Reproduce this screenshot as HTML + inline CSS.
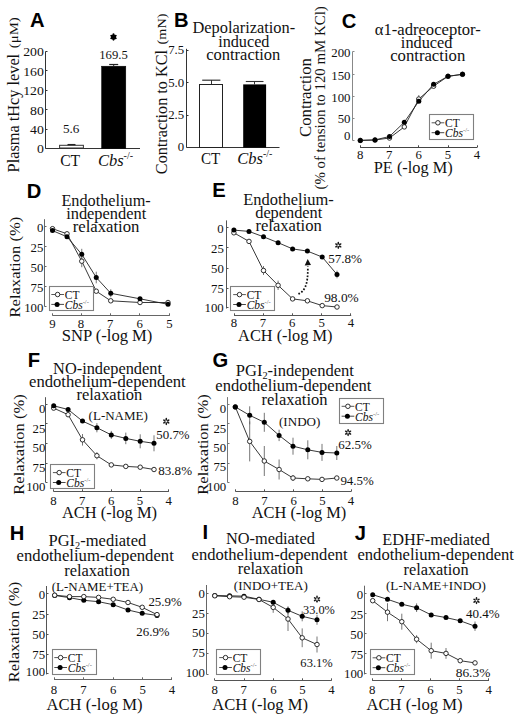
<!DOCTYPE html>
<html><head><meta charset="utf-8"><style>
html,body{margin:0;padding:0;background:#fff;}
svg{display:block;font-family:"Liberation Serif", serif;}
</style></head><body>
<svg width="520" height="720" viewBox="0 0 520 720" fill="#111">
<rect width="520" height="720" fill="#fff"/>
<text x="29.89" y="27.4" font-size="20.2" font-family="Liberation Sans, sans-serif" font-weight="bold" fill="#000">A</text>
<text x="0" y="0" font-size="16" textLength="118.53" lengthAdjust="spacingAndGlyphs" transform="translate(19 172.39) rotate(-90)">Plasma tHcy level</text>
<text x="0" y="0" font-size="12.5" textLength="30.91" lengthAdjust="spacingAndGlyphs" transform="translate(18.3 48.17) rotate(-90)">(&#956;M)</text>
<line x1="45.5" y1="51.5" x2="45.5" y2="148.3" stroke="#333" stroke-width="1"/>
<line x1="45.5" y1="148.5" x2="47.5" y2="148.5" stroke="#333" stroke-width="1"/>
<line x1="45.5" y1="129.5" x2="47.5" y2="129.5" stroke="#333" stroke-width="1"/>
<line x1="45.5" y1="109.5" x2="47.5" y2="109.5" stroke="#333" stroke-width="1"/>
<line x1="45.5" y1="90.5" x2="47.5" y2="90.5" stroke="#333" stroke-width="1"/>
<line x1="45.5" y1="70.5" x2="47.5" y2="70.5" stroke="#333" stroke-width="1"/>
<line x1="45.5" y1="51.5" x2="47.5" y2="51.5" stroke="#333" stroke-width="1"/>
<text x="36.93" y="153.23" font-size="12.3" textLength="6.89" lengthAdjust="spacingAndGlyphs">0</text>
<text x="30.04" y="133.93" font-size="12.3" textLength="13.78" lengthAdjust="spacingAndGlyphs">40</text>
<text x="30.04" y="114.53" font-size="12.3" textLength="13.78" lengthAdjust="spacingAndGlyphs">80</text>
<text x="23.15" y="95.13" font-size="12.3" textLength="20.66" lengthAdjust="spacingAndGlyphs">120</text>
<text x="23.15" y="75.73" font-size="12.3" textLength="20.66" lengthAdjust="spacingAndGlyphs">160</text>
<text x="23.15" y="56.43" font-size="12.3" textLength="20.66" lengthAdjust="spacingAndGlyphs">200</text>
<line x1="45.5" y1="148.5" x2="140" y2="148.5" stroke="#333" stroke-width="1"/>
<rect x="59.6" y="145.3" width="23.8" height="2.7" fill="#fff" stroke="#333" stroke-width="1"/>
<line x1="67.5" y1="144.6" x2="75.5" y2="144.6" stroke="#222" stroke-width="1.3"/>
<rect x="101.6" y="66.2" width="24.2" height="82.3" fill="#000" stroke="#000" stroke-width="0.5"/>
<line x1="113.7" y1="64.4" x2="113.7" y2="66.2" stroke="#222" stroke-width="1"/>
<line x1="109.2" y1="64.5" x2="118.2" y2="64.5" stroke="#222" stroke-width="1.2"/>
<text x="62.97" y="133.2" font-size="13.2">5.6</text>
<text x="99.29" y="58.8" font-size="13.2" textLength="28.52" lengthAdjust="spacingAndGlyphs">169.5</text>
<ellipse cx="113.5" cy="34.83" rx="1.04" ry="1.47" transform="rotate(0 113.5 34.83)" fill="#000"/><ellipse cx="115.38" cy="35.91" rx="1.04" ry="1.47" transform="rotate(60 115.38 35.91)" fill="#000"/><ellipse cx="115.38" cy="38.09" rx="1.04" ry="1.47" transform="rotate(120 115.38 38.09)" fill="#000"/><ellipse cx="113.5" cy="39.17" rx="1.04" ry="1.47" transform="rotate(180 113.5 39.17)" fill="#000"/><ellipse cx="111.62" cy="38.09" rx="1.04" ry="1.47" transform="rotate(240 111.62 38.09)" fill="#000"/><ellipse cx="111.62" cy="35.91" rx="1.04" ry="1.47" transform="rotate(-60 111.62 35.91)" fill="#000"/>
<circle cx="113.5" cy="37" r="2.5" fill="#000"/>
<text x="60.18" y="166.4" font-size="16.5" textLength="19.96" lengthAdjust="spacingAndGlyphs">CT</text>
<text x="97.89" y="166.4" font-size="16.5"><tspan font-style="italic">Cbs</tspan><tspan font-size="10" dy="-7">-/-</tspan></text>
<text x="173.94" y="27.4" font-size="20.2" font-family="Liberation Sans, sans-serif" font-weight="bold" fill="#000">B</text>
<text x="192.41" y="32.8" font-size="16" textLength="102.77" lengthAdjust="spacingAndGlyphs">Depolarization-</text>
<text x="218.18" y="46.5" font-size="16" textLength="51.24" lengthAdjust="spacingAndGlyphs">induced</text>
<text x="206.18" y="59.7" font-size="16" textLength="74.18" lengthAdjust="spacingAndGlyphs">contraction</text>
<text x="0" y="0" font-size="16" textLength="124.09" lengthAdjust="spacingAndGlyphs" transform="translate(167 174.15) rotate(-90)">Contraction to KCl</text>
<text x="0" y="0" font-size="13" textLength="30.81" lengthAdjust="spacingAndGlyphs" transform="translate(166.4 44.39) rotate(-90)">(mN)</text>
<line x1="186.5" y1="48.8" x2="186.5" y2="147.2" stroke="#333" stroke-width="1"/>
<line x1="186.5" y1="147.5" x2="188.5" y2="147.5" stroke="#333" stroke-width="1"/>
<line x1="186.5" y1="115.5" x2="188.5" y2="115.5" stroke="#333" stroke-width="1"/>
<line x1="186.5" y1="82.5" x2="188.5" y2="82.5" stroke="#333" stroke-width="1"/>
<line x1="186.5" y1="50.5" x2="188.5" y2="50.5" stroke="#333" stroke-width="1"/>
<text x="177.78" y="150.63" font-size="12.3" textLength="6.4" lengthAdjust="spacingAndGlyphs">0</text>
<text x="168.22" y="118.88" font-size="12.3" textLength="15.99" lengthAdjust="spacingAndGlyphs">2.5</text>
<text x="168.19" y="87.2" font-size="12.3" textLength="15.99" lengthAdjust="spacingAndGlyphs">5.0</text>
<text x="168.22" y="53.94" font-size="12.3" textLength="15.99" lengthAdjust="spacingAndGlyphs">7.5</text>
<line x1="186.5" y1="147.5" x2="279.5" y2="147.5" stroke="#333" stroke-width="1"/>
<rect x="199.5" y="84.5" width="23" height="63" fill="#fff" stroke="#222" stroke-width="1"/>
<line x1="211.5" y1="80" x2="211.5" y2="84" stroke="#333" stroke-width="1"/>
<line x1="202.2" y1="80.2" x2="220.4" y2="80.2" stroke="#333" stroke-width="1.2"/>
<rect x="243.2" y="84.4" width="22.9" height="63.2" fill="#000"/>
<line x1="254.5" y1="81.5" x2="254.5" y2="84.5" stroke="#333" stroke-width="1"/>
<line x1="245.8" y1="81.5" x2="263.5" y2="81.5" stroke="#333" stroke-width="1.1"/>
<text x="200.9" y="164.2" font-size="16.5" textLength="19.23" lengthAdjust="spacingAndGlyphs">CT</text>
<text x="237.19" y="164.2" font-size="16.5"><tspan font-style="italic">Cbs</tspan><tspan font-size="10" dy="-7">-/-</tspan></text>
<text x="341.79" y="27.5" font-size="20.2" font-family="Liberation Sans, sans-serif" font-weight="bold" fill="#000">C</text>
<text x="374.78" y="35" font-size="16" textLength="106.09" lengthAdjust="spacingAndGlyphs">&#945;1-adreoceptor-</text>
<text x="400.87" y="48" font-size="16" textLength="51.54" lengthAdjust="spacingAndGlyphs">induced</text>
<text x="390.17" y="61.1" font-size="16" textLength="75.09" lengthAdjust="spacingAndGlyphs">contraction</text>
<text x="0" y="0" font-size="16" textLength="78.9" lengthAdjust="spacingAndGlyphs" transform="translate(310.7 136.97) rotate(-90)">Contraction</text>
<text x="0" y="0" font-size="14" textLength="183.3" lengthAdjust="spacingAndGlyphs" transform="translate(324.9 189.57) rotate(-90)">(% of tension to 120 mM KCl)</text>
<line x1="352.5" y1="51.6" x2="352.5" y2="140.4" stroke="#888" stroke-width="1"/>
<line x1="352.5" y1="140.5" x2="354.5" y2="140.5" stroke="#888" stroke-width="1"/>
<line x1="352.5" y1="118.5" x2="354.5" y2="118.5" stroke="#888" stroke-width="1"/>
<line x1="352.5" y1="96.5" x2="354.5" y2="96.5" stroke="#888" stroke-width="1"/>
<line x1="352.5" y1="74.5" x2="354.5" y2="74.5" stroke="#888" stroke-width="1"/>
<line x1="352.5" y1="51.5" x2="354.5" y2="51.5" stroke="#888" stroke-width="1"/>
<text x="344.08" y="140.03" font-size="12.3" textLength="6.4" lengthAdjust="spacingAndGlyphs">0</text>
<text x="337.69" y="123.43" font-size="12.3" textLength="12.79" lengthAdjust="spacingAndGlyphs">50</text>
<text x="331.29" y="101.93" font-size="12.3" textLength="19.19" lengthAdjust="spacingAndGlyphs">100</text>
<text x="331.29" y="79.63" font-size="12.3" textLength="19.19" lengthAdjust="spacingAndGlyphs">150</text>
<text x="331.29" y="57.13" font-size="12.3" textLength="19.19" lengthAdjust="spacingAndGlyphs">200</text>
<line x1="360.2" y1="147.5" x2="477" y2="147.5" stroke="#444" stroke-width="1"/>
<line x1="360.5" y1="147.5" x2="360.5" y2="145.3" stroke="#444" stroke-width="1"/>
<line x1="389.5" y1="147.5" x2="389.5" y2="145.3" stroke="#444" stroke-width="1"/>
<line x1="418.5" y1="147.5" x2="418.5" y2="145.3" stroke="#444" stroke-width="1"/>
<line x1="448.5" y1="147.5" x2="448.5" y2="145.3" stroke="#444" stroke-width="1"/>
<line x1="477.5" y1="147.5" x2="477.5" y2="145.3" stroke="#444" stroke-width="1"/>
<text x="357.1" y="158.8" font-size="12.3" textLength="6.4" lengthAdjust="spacingAndGlyphs">8</text>
<text x="386.08" y="158.8" font-size="12.3" textLength="6.4" lengthAdjust="spacingAndGlyphs">7</text>
<text x="415.47" y="158.8" font-size="12.3" textLength="6.4" lengthAdjust="spacingAndGlyphs">6</text>
<text x="444.69" y="158.8" font-size="12.3" textLength="6.4" lengthAdjust="spacingAndGlyphs">5</text>
<text x="473.77" y="158.8" font-size="12.3" textLength="6.4" lengthAdjust="spacingAndGlyphs">4</text>
<text x="373.81" y="173.1" font-size="16" textLength="78.89" lengthAdjust="spacingAndGlyphs">PE (-log M)</text>
<polyline points="360.3,140.4 375,140 389.5,138 404.3,126.9 418.8,99 433.6,86.2 448,76.3 462.5,74.3" fill="none" stroke="#222" stroke-width="0.9"/>
<line x1="418.8" y1="95" x2="418.8" y2="103" stroke="#666" stroke-width="0.9"/>
<polyline points="360.3,140.4 375,139.9 389.5,136.5 404.3,122.2 418.8,101.3 433.6,84.3 448,76.3 462.5,74.3" fill="none" stroke="#222" stroke-width="0.9"/>
<circle cx="360.3" cy="140.4" r="2.25" fill="#fff" stroke="#1a1a1a" stroke-width="0.9"/>
<circle cx="375" cy="140" r="2.25" fill="#fff" stroke="#1a1a1a" stroke-width="0.9"/>
<circle cx="389.5" cy="138" r="2.25" fill="#fff" stroke="#1a1a1a" stroke-width="0.9"/>
<circle cx="404.3" cy="126.9" r="2.25" fill="#fff" stroke="#1a1a1a" stroke-width="0.9"/>
<circle cx="418.8" cy="99" r="2.25" fill="#fff" stroke="#1a1a1a" stroke-width="0.9"/>
<circle cx="433.6" cy="86.2" r="2.25" fill="#fff" stroke="#1a1a1a" stroke-width="0.9"/>
<circle cx="448" cy="76.3" r="2.25" fill="#fff" stroke="#1a1a1a" stroke-width="0.9"/>
<circle cx="462.5" cy="74.3" r="2.25" fill="#fff" stroke="#1a1a1a" stroke-width="0.9"/>
<circle cx="360.3" cy="140.4" r="2.5" fill="#000"/>
<circle cx="375" cy="139.9" r="2.5" fill="#000"/>
<circle cx="389.5" cy="136.5" r="2.5" fill="#000"/>
<circle cx="404.3" cy="122.2" r="2.5" fill="#000"/>
<circle cx="418.8" cy="101.3" r="2.5" fill="#000"/>
<circle cx="433.6" cy="84.3" r="2.5" fill="#000"/>
<circle cx="448" cy="76.3" r="2.5" fill="#000"/>
<circle cx="462.5" cy="74.3" r="2.5" fill="#000"/>
<rect x="429.5" y="114.5" width="44" height="25" fill="#fff" stroke="#808080" stroke-width="1.1"/>
<line x1="431.6" y1="122.8" x2="444.3" y2="122.8" stroke="#444" stroke-width="0.9"/>
<circle cx="437.9" cy="122.8" r="2.25" fill="#fff" stroke="#1a1a1a" stroke-width="0.9"/>
<text x="445.04" y="127" font-size="11.5">CT</text>
<line x1="431.6" y1="132.7" x2="444.3" y2="132.7" stroke="#333" stroke-width="0.9"/>
<circle cx="437.4" cy="132.7" r="2.5" fill="#000"/>
<text x="445.07" y="137.4" font-size="11.5"><tspan font-style="italic">Cbs</tspan><tspan font-size="6.5" dy="-5" fill="#555">-/-</tspan></text>
<text x="26.64" y="198.2" font-size="20.2" font-family="Liberation Sans, sans-serif" font-weight="bold" fill="#000">D</text>
<text x="61.41" y="205.6" font-size="16" textLength="89.28" lengthAdjust="spacingAndGlyphs">Endothelium-</text>
<text x="66.17" y="219.3" font-size="16" textLength="80.11" lengthAdjust="spacingAndGlyphs">independent</text>
<text x="72.67" y="232.2" font-size="16" textLength="66.8" lengthAdjust="spacingAndGlyphs">relaxation</text>
<text x="0" y="0" font-size="15.5" textLength="100.72" lengthAdjust="spacingAndGlyphs" transform="translate(19.5 317.5) rotate(-90)">Relaxation (%)</text>
<line x1="44.5" y1="219.2" x2="44.5" y2="306.5" stroke="#666" stroke-width="1"/>
<line x1="44.5" y1="226.5" x2="46.5" y2="226.5" stroke="#666" stroke-width="1"/>
<line x1="44.5" y1="246.5" x2="46.5" y2="246.5" stroke="#666" stroke-width="1"/>
<line x1="44.5" y1="266.5" x2="46.5" y2="266.5" stroke="#666" stroke-width="1"/>
<line x1="44.5" y1="286.5" x2="46.5" y2="286.5" stroke="#666" stroke-width="1"/>
<line x1="44.5" y1="306.5" x2="46.5" y2="306.5" stroke="#666" stroke-width="1"/>
<text x="36.98" y="232.03" font-size="12.3" textLength="6.4" lengthAdjust="spacingAndGlyphs">0</text>
<text x="30.62" y="252.11" font-size="12.3" textLength="12.79" lengthAdjust="spacingAndGlyphs">25</text>
<text x="30.59" y="272.13" font-size="12.3" textLength="12.79" lengthAdjust="spacingAndGlyphs">50</text>
<text x="30.62" y="292.07" font-size="12.3" textLength="12.79" lengthAdjust="spacingAndGlyphs">75</text>
<text x="24.19" y="312.23" font-size="12.3" textLength="19.19" lengthAdjust="spacingAndGlyphs">100</text>
<line x1="52.3" y1="315.5" x2="169.8" y2="315.5" stroke="#666" stroke-width="1"/>
<line x1="52.5" y1="315.5" x2="52.5" y2="313.3" stroke="#666" stroke-width="1"/>
<line x1="81.5" y1="315.5" x2="81.5" y2="313.3" stroke="#666" stroke-width="1"/>
<line x1="110.5" y1="315.5" x2="110.5" y2="313.3" stroke="#666" stroke-width="1"/>
<line x1="139.5" y1="315.5" x2="139.5" y2="313.3" stroke="#666" stroke-width="1"/>
<line x1="169.5" y1="315.5" x2="169.5" y2="313.3" stroke="#666" stroke-width="1"/>
<text x="49.15" y="327.6" font-size="12.3" textLength="6.4" lengthAdjust="spacingAndGlyphs">9</text>
<text x="77.8" y="327.6" font-size="12.3" textLength="6.4" lengthAdjust="spacingAndGlyphs">8</text>
<text x="107.08" y="327.6" font-size="12.3" textLength="6.4" lengthAdjust="spacingAndGlyphs">7</text>
<text x="136.52" y="327.6" font-size="12.3" textLength="6.4" lengthAdjust="spacingAndGlyphs">6</text>
<text x="166.29" y="327.6" font-size="12.3" textLength="6.4" lengthAdjust="spacingAndGlyphs">5</text>
<text x="61.78" y="340.8" font-size="16" textLength="90.64" lengthAdjust="spacingAndGlyphs">SNP (-log M)</text>
<polyline points="52.5,228.7 67,233.8 81.75,261.2 96.25,291.2 110.75,300.8 140,302.5 168,302.5" fill="none" stroke="#222" stroke-width="0.9"/>
<line x1="81.75" y1="255.2" x2="81.75" y2="267.2" stroke="#666" stroke-width="0.9"/>
<polyline points="52.5,230.6 67,236.8 81.75,254.3 96.25,277.5 110.75,293.3 140,298.8 168,304.3" fill="none" stroke="#222" stroke-width="0.9"/>
<line x1="81.75" y1="248.8" x2="81.75" y2="259.8" stroke="#666" stroke-width="0.9"/>
<line x1="96.25" y1="271.7" x2="96.25" y2="283.3" stroke="#666" stroke-width="0.9"/>
<line x1="110.75" y1="289.3" x2="110.75" y2="297.3" stroke="#666" stroke-width="0.9"/>
<circle cx="52.5" cy="228.7" r="2.25" fill="#fff" stroke="#1a1a1a" stroke-width="0.9"/>
<circle cx="67" cy="233.8" r="2.25" fill="#fff" stroke="#1a1a1a" stroke-width="0.9"/>
<circle cx="81.75" cy="261.2" r="2.25" fill="#fff" stroke="#1a1a1a" stroke-width="0.9"/>
<circle cx="96.25" cy="291.2" r="2.25" fill="#fff" stroke="#1a1a1a" stroke-width="0.9"/>
<circle cx="110.75" cy="300.8" r="2.25" fill="#fff" stroke="#1a1a1a" stroke-width="0.9"/>
<circle cx="140" cy="302.5" r="2.25" fill="#fff" stroke="#1a1a1a" stroke-width="0.9"/>
<circle cx="168" cy="302.5" r="2.25" fill="#fff" stroke="#1a1a1a" stroke-width="0.9"/>
<circle cx="52.5" cy="230.6" r="2.5" fill="#000"/>
<circle cx="67" cy="236.8" r="2.5" fill="#000"/>
<circle cx="81.75" cy="254.3" r="2.5" fill="#000"/>
<circle cx="96.25" cy="277.5" r="2.5" fill="#000"/>
<circle cx="110.75" cy="293.3" r="2.5" fill="#000"/>
<circle cx="140" cy="298.8" r="2.5" fill="#000"/>
<circle cx="168" cy="304.3" r="2.5" fill="#000"/>
<rect x="49.5" y="286.5" width="44" height="24" fill="#fff" stroke="#808080" stroke-width="1.1"/>
<line x1="51.3" y1="294.5" x2="64" y2="294.5" stroke="#444" stroke-width="0.9"/>
<circle cx="57.6" cy="294.5" r="2.25" fill="#fff" stroke="#1a1a1a" stroke-width="0.9"/>
<text x="64.74" y="298.7" font-size="11.5">CT</text>
<line x1="51.3" y1="304.4" x2="64" y2="304.4" stroke="#333" stroke-width="0.9"/>
<circle cx="57.1" cy="304.4" r="2.5" fill="#000"/>
<text x="64.77" y="309.1" font-size="11.5"><tspan font-style="italic">Cbs</tspan><tspan font-size="6.5" dy="-5" fill="#555">-/-</tspan></text>
<text x="212.24" y="197.4" font-size="20.2" font-family="Liberation Sans, sans-serif" font-weight="bold" fill="#000">E</text>
<text x="243.31" y="204.5" font-size="16" textLength="90.4" lengthAdjust="spacingAndGlyphs">Endothelium-</text>
<text x="255.23" y="218" font-size="16" textLength="67.04" lengthAdjust="spacingAndGlyphs">dependent</text>
<text x="255.47" y="230.8" font-size="16" textLength="66.29" lengthAdjust="spacingAndGlyphs">relaxation</text>
<line x1="226.5" y1="220.4" x2="226.5" y2="308.5" stroke="#555" stroke-width="1"/>
<line x1="226.5" y1="227.5" x2="228.5" y2="227.5" stroke="#555" stroke-width="1"/>
<line x1="226.5" y1="247.5" x2="228.5" y2="247.5" stroke="#555" stroke-width="1"/>
<line x1="226.5" y1="268.5" x2="228.5" y2="268.5" stroke="#555" stroke-width="1"/>
<line x1="226.5" y1="288.5" x2="228.5" y2="288.5" stroke="#555" stroke-width="1"/>
<line x1="226.5" y1="307.5" x2="228.5" y2="307.5" stroke="#555" stroke-width="1"/>
<text x="217.38" y="233.33" font-size="12.3" textLength="6.4" lengthAdjust="spacingAndGlyphs">0</text>
<text x="211.02" y="253.31" font-size="12.3" textLength="12.79" lengthAdjust="spacingAndGlyphs">25</text>
<text x="210.99" y="273.33" font-size="12.3" textLength="12.79" lengthAdjust="spacingAndGlyphs">50</text>
<text x="211.02" y="293.37" font-size="12.3" textLength="12.79" lengthAdjust="spacingAndGlyphs">75</text>
<text x="204.59" y="312.33" font-size="12.3" textLength="19.19" lengthAdjust="spacingAndGlyphs">100</text>
<line x1="234" y1="315.5" x2="351.2" y2="315.5" stroke="#555" stroke-width="1"/>
<line x1="234.5" y1="315.5" x2="234.5" y2="313.3" stroke="#555" stroke-width="1"/>
<line x1="263.5" y1="315.5" x2="263.5" y2="313.3" stroke="#555" stroke-width="1"/>
<line x1="292.5" y1="315.5" x2="292.5" y2="313.3" stroke="#555" stroke-width="1"/>
<line x1="321.5" y1="315.5" x2="321.5" y2="313.3" stroke="#555" stroke-width="1"/>
<line x1="350.5" y1="315.5" x2="350.5" y2="313.3" stroke="#555" stroke-width="1"/>
<text x="230.8" y="327" font-size="12.3" textLength="6.4" lengthAdjust="spacingAndGlyphs">8</text>
<text x="259.88" y="327" font-size="12.3" textLength="6.4" lengthAdjust="spacingAndGlyphs">7</text>
<text x="289.12" y="327" font-size="12.3" textLength="6.4" lengthAdjust="spacingAndGlyphs">6</text>
<text x="318.59" y="327" font-size="12.3" textLength="6.4" lengthAdjust="spacingAndGlyphs">5</text>
<text x="347.67" y="327" font-size="12.3" textLength="6.4" lengthAdjust="spacingAndGlyphs">4</text>
<text x="238.14" y="340.8" font-size="16" textLength="94.26" lengthAdjust="spacingAndGlyphs">ACH (-log M)</text>
<polyline points="233.9,232.8 249,241.4 263.5,270.5 278.1,285.3 292.6,298.9 307.4,300.8 322.2,305.6 337,307" fill="none" stroke="#222" stroke-width="0.9"/>
<line x1="263.5" y1="266" x2="263.5" y2="275" stroke="#666" stroke-width="0.9"/>
<line x1="278.1" y1="280.6" x2="278.1" y2="290" stroke="#666" stroke-width="0.9"/>
<polyline points="233.9,230.1 249,231.4 263.5,236.8 278.1,242.7 292.6,248.9 307.4,251.1 322.2,257 337,274.5" fill="none" stroke="#222" stroke-width="0.9"/>
<line x1="337" y1="270.7" x2="337" y2="278.3" stroke="#666" stroke-width="0.9"/>
<circle cx="233.9" cy="232.8" r="2.25" fill="#fff" stroke="#1a1a1a" stroke-width="0.9"/>
<circle cx="249" cy="241.4" r="2.25" fill="#fff" stroke="#1a1a1a" stroke-width="0.9"/>
<circle cx="263.5" cy="270.5" r="2.25" fill="#fff" stroke="#1a1a1a" stroke-width="0.9"/>
<circle cx="278.1" cy="285.3" r="2.25" fill="#fff" stroke="#1a1a1a" stroke-width="0.9"/>
<circle cx="292.6" cy="298.9" r="2.25" fill="#fff" stroke="#1a1a1a" stroke-width="0.9"/>
<circle cx="307.4" cy="300.8" r="2.25" fill="#fff" stroke="#1a1a1a" stroke-width="0.9"/>
<circle cx="322.2" cy="305.6" r="2.25" fill="#fff" stroke="#1a1a1a" stroke-width="0.9"/>
<circle cx="337" cy="307" r="2.25" fill="#fff" stroke="#1a1a1a" stroke-width="0.9"/>
<circle cx="233.9" cy="230.1" r="2.5" fill="#000"/>
<circle cx="249" cy="231.4" r="2.5" fill="#000"/>
<circle cx="263.5" cy="236.8" r="2.5" fill="#000"/>
<circle cx="278.1" cy="242.7" r="2.5" fill="#000"/>
<circle cx="292.6" cy="248.9" r="2.5" fill="#000"/>
<circle cx="307.4" cy="251.1" r="2.5" fill="#000"/>
<circle cx="322.2" cy="257" r="2.5" fill="#000"/>
<circle cx="337" cy="274.5" r="2.5" fill="#000"/>
<rect x="230.5" y="286.5" width="44" height="24" fill="#fff" stroke="#808080" stroke-width="1.1"/>
<line x1="233.2" y1="294.6" x2="245.9" y2="294.6" stroke="#444" stroke-width="0.9"/>
<circle cx="239.5" cy="294.6" r="2.25" fill="#fff" stroke="#1a1a1a" stroke-width="0.9"/>
<text x="246.64" y="298.8" font-size="11.5">CT</text>
<line x1="233.2" y1="304.5" x2="245.9" y2="304.5" stroke="#333" stroke-width="0.9"/>
<circle cx="239" cy="304.5" r="2.5" fill="#000"/>
<text x="246.67" y="309.2" font-size="11.5"><tspan font-style="italic">Cbs</tspan><tspan font-size="6.5" dy="-5" fill="#555">-/-</tspan></text>
<ellipse cx="338.3" cy="243.23" rx="0.83" ry="1.47" transform="rotate(0 338.3 243.23)" fill="#1a1a1a"/><ellipse cx="340.18" cy="244.31" rx="0.83" ry="1.47" transform="rotate(60 340.18 244.31)" fill="#1a1a1a"/><ellipse cx="340.18" cy="246.49" rx="0.83" ry="1.47" transform="rotate(120 340.18 246.49)" fill="#1a1a1a"/><ellipse cx="338.3" cy="247.57" rx="0.83" ry="1.47" transform="rotate(180 338.3 247.57)" fill="#1a1a1a"/><ellipse cx="336.42" cy="246.49" rx="0.83" ry="1.47" transform="rotate(240 336.42 246.49)" fill="#1a1a1a"/><ellipse cx="336.42" cy="244.31" rx="0.83" ry="1.47" transform="rotate(-60 336.42 244.31)" fill="#1a1a1a"/>
<text x="328.15" y="262.9" font-size="13.2" textLength="33.89" lengthAdjust="spacingAndGlyphs">57.8%</text>
<text x="324.16" y="302" font-size="13.2" textLength="34.58" lengthAdjust="spacingAndGlyphs">98.0%</text>
<path d="M298.4,293.9 C304,291.5 308.3,286 307.8,266.5" fill="none" stroke="#111" stroke-width="1.75" stroke-dasharray="1.7,1.65"/>
<path d="M304.7,265.4 L307.7,259.0 L311.0,264.9 Z" fill="#111"/>
<text x="27.84" y="366.6" font-size="20.2" font-family="Liberation Sans, sans-serif" font-weight="bold" fill="#000">F</text>
<text x="53.11" y="373.7" font-size="16" textLength="108.87" lengthAdjust="spacingAndGlyphs">NO-independent</text>
<text x="29.04" y="386.9" font-size="16" textLength="156.63" lengthAdjust="spacingAndGlyphs">endothelium-dependent</text>
<text x="76.47" y="400" font-size="16" textLength="65.79" lengthAdjust="spacingAndGlyphs">relaxation</text>
<text x="0" y="0" font-size="15.5" textLength="100.42" lengthAdjust="spacingAndGlyphs" transform="translate(24.4 494.7) rotate(-90)">Relaxation (%)</text>
<line x1="45.5" y1="397.2" x2="45.5" y2="482.3" stroke="#555" stroke-width="1"/>
<line x1="45.5" y1="404.5" x2="47.5" y2="404.5" stroke="#555" stroke-width="1"/>
<line x1="45.5" y1="423.5" x2="47.5" y2="423.5" stroke="#555" stroke-width="1"/>
<line x1="45.5" y1="443.5" x2="47.5" y2="443.5" stroke="#555" stroke-width="1"/>
<line x1="45.5" y1="463.5" x2="47.5" y2="463.5" stroke="#555" stroke-width="1"/>
<line x1="45.5" y1="482.5" x2="47.5" y2="482.5" stroke="#555" stroke-width="1"/>
<text x="38.98" y="412.83" font-size="12.3" textLength="6.4" lengthAdjust="spacingAndGlyphs">0</text>
<text x="32.62" y="432.81" font-size="12.3" textLength="12.79" lengthAdjust="spacingAndGlyphs">25</text>
<text x="32.59" y="452.13" font-size="12.3" textLength="12.79" lengthAdjust="spacingAndGlyphs">50</text>
<text x="32.62" y="471.77" font-size="12.3" textLength="12.79" lengthAdjust="spacingAndGlyphs">75</text>
<text x="26.19" y="491.23" font-size="12.3" textLength="19.19" lengthAdjust="spacingAndGlyphs">100</text>
<line x1="53.5" y1="491.5" x2="168.9" y2="491.5" stroke="#555" stroke-width="1"/>
<line x1="53.5" y1="491.5" x2="53.5" y2="489.3" stroke="#555" stroke-width="1"/>
<line x1="82.5" y1="491.5" x2="82.5" y2="489.3" stroke="#555" stroke-width="1"/>
<line x1="111.5" y1="491.5" x2="111.5" y2="489.3" stroke="#555" stroke-width="1"/>
<line x1="140.5" y1="491.5" x2="140.5" y2="489.3" stroke="#555" stroke-width="1"/>
<line x1="168.5" y1="491.5" x2="168.5" y2="489.3" stroke="#555" stroke-width="1"/>
<text x="50.3" y="505.1" font-size="12.3" textLength="6.4" lengthAdjust="spacingAndGlyphs">8</text>
<text x="79.08" y="505.1" font-size="12.3" textLength="6.4" lengthAdjust="spacingAndGlyphs">7</text>
<text x="108.12" y="505.1" font-size="12.3" textLength="6.4" lengthAdjust="spacingAndGlyphs">6</text>
<text x="136.89" y="505.1" font-size="12.3" textLength="6.4" lengthAdjust="spacingAndGlyphs">5</text>
<text x="165.47" y="505.1" font-size="12.3" textLength="6.4" lengthAdjust="spacingAndGlyphs">4</text>
<text x="61.94" y="517.6" font-size="16" textLength="95.06" lengthAdjust="spacingAndGlyphs">ACH (-log M)</text>
<text x="88.61" y="420.4" font-size="12.8" textLength="59.23" lengthAdjust="spacingAndGlyphs">(L-NAME)</text>
<polyline points="53.7,408.1 68.1,414.7 82.5,439.8 96.9,455.7 111.3,464.9 125.8,466.4 140.2,467.2 154,469.5" fill="none" stroke="#222" stroke-width="0.9"/>
<line x1="82.5" y1="434" x2="82.5" y2="445.6" stroke="#666" stroke-width="0.9"/>
<line x1="96.9" y1="452.1" x2="96.9" y2="459.3" stroke="#666" stroke-width="0.9"/>
<polyline points="53.7,405.8 68.1,409.5 82.5,421.1 96.9,427.7 111.3,434.9 125.8,438.4 140.2,441.3 154,443.3" fill="none" stroke="#222" stroke-width="0.9"/>
<line x1="96.9" y1="423.1" x2="96.9" y2="432.3" stroke="#666" stroke-width="0.9"/>
<line x1="111.3" y1="430.9" x2="111.3" y2="438.9" stroke="#666" stroke-width="0.9"/>
<line x1="125.8" y1="432.6" x2="125.8" y2="444.2" stroke="#666" stroke-width="0.9"/>
<line x1="140.2" y1="434.3" x2="140.2" y2="448.3" stroke="#666" stroke-width="0.9"/>
<line x1="154" y1="435.3" x2="154" y2="451.3" stroke="#666" stroke-width="0.9"/>
<circle cx="53.7" cy="408.1" r="2.25" fill="#fff" stroke="#1a1a1a" stroke-width="0.9"/>
<circle cx="68.1" cy="414.7" r="2.25" fill="#fff" stroke="#1a1a1a" stroke-width="0.9"/>
<circle cx="82.5" cy="439.8" r="2.25" fill="#fff" stroke="#1a1a1a" stroke-width="0.9"/>
<circle cx="96.9" cy="455.7" r="2.25" fill="#fff" stroke="#1a1a1a" stroke-width="0.9"/>
<circle cx="111.3" cy="464.9" r="2.25" fill="#fff" stroke="#1a1a1a" stroke-width="0.9"/>
<circle cx="125.8" cy="466.4" r="2.25" fill="#fff" stroke="#1a1a1a" stroke-width="0.9"/>
<circle cx="140.2" cy="467.2" r="2.25" fill="#fff" stroke="#1a1a1a" stroke-width="0.9"/>
<circle cx="154" cy="469.5" r="2.25" fill="#fff" stroke="#1a1a1a" stroke-width="0.9"/>
<circle cx="53.7" cy="405.8" r="2.5" fill="#000"/>
<circle cx="68.1" cy="409.5" r="2.5" fill="#000"/>
<circle cx="82.5" cy="421.1" r="2.5" fill="#000"/>
<circle cx="96.9" cy="427.7" r="2.5" fill="#000"/>
<circle cx="111.3" cy="434.9" r="2.5" fill="#000"/>
<circle cx="125.8" cy="438.4" r="2.5" fill="#000"/>
<circle cx="140.2" cy="441.3" r="2.5" fill="#000"/>
<circle cx="154" cy="443.3" r="2.5" fill="#000"/>
<rect x="50.5" y="464.5" width="44" height="24" fill="#fff" stroke="#808080" stroke-width="1.1"/>
<line x1="52.9" y1="472.6" x2="65.6" y2="472.6" stroke="#444" stroke-width="0.9"/>
<circle cx="59.2" cy="472.6" r="2.25" fill="#fff" stroke="#1a1a1a" stroke-width="0.9"/>
<text x="66.34" y="476.8" font-size="11.5">CT</text>
<line x1="52.9" y1="482.5" x2="65.6" y2="482.5" stroke="#333" stroke-width="0.9"/>
<circle cx="58.7" cy="482.5" r="2.5" fill="#000"/>
<text x="66.37" y="487.2" font-size="11.5"><tspan font-style="italic">Cbs</tspan><tspan font-size="6.5" dy="-5" fill="#555">-/-</tspan></text>
<ellipse cx="166.3" cy="419.33" rx="0.83" ry="1.47" transform="rotate(0 166.3 419.33)" fill="#1a1a1a"/><ellipse cx="168.18" cy="420.42" rx="0.83" ry="1.47" transform="rotate(60 168.18 420.42)" fill="#1a1a1a"/><ellipse cx="168.18" cy="422.58" rx="0.83" ry="1.47" transform="rotate(120 168.18 422.58)" fill="#1a1a1a"/><ellipse cx="166.3" cy="423.67" rx="0.83" ry="1.47" transform="rotate(180 166.3 423.67)" fill="#1a1a1a"/><ellipse cx="164.42" cy="422.58" rx="0.83" ry="1.47" transform="rotate(240 164.42 422.58)" fill="#1a1a1a"/><ellipse cx="164.42" cy="420.42" rx="0.83" ry="1.47" transform="rotate(-60 164.42 420.42)" fill="#1a1a1a"/>
<text x="156.26" y="439" font-size="13.2" textLength="33.37" lengthAdjust="spacingAndGlyphs">50.7%</text>
<text x="158.31" y="474.9" font-size="13.2" textLength="33.72" lengthAdjust="spacingAndGlyphs">83.8%</text>
<text x="212.49" y="366.6" font-size="20.2" font-family="Liberation Sans, sans-serif" font-weight="bold" fill="#000">G</text>
<text x="235.8" y="375.7" font-size="16" textLength="118.08" lengthAdjust="spacingAndGlyphs">PGI<tspan font-size="10" dy="3.5">2</tspan><tspan dy="-3.5">-independent</tspan></text>
<text x="215.34" y="390.7" font-size="16" textLength="156.03" lengthAdjust="spacingAndGlyphs">endothelium-dependent</text>
<text x="261.57" y="405.4" font-size="16" textLength="65.89" lengthAdjust="spacingAndGlyphs">relaxation</text>
<text x="0" y="0" font-size="15.5" textLength="100.42" lengthAdjust="spacingAndGlyphs" transform="translate(207.6 494.7) rotate(-90)">Relaxation (%)</text>
<line x1="227.5" y1="397.1" x2="227.5" y2="482.5" stroke="#777" stroke-width="1"/>
<line x1="227.5" y1="404.5" x2="229.5" y2="404.5" stroke="#777" stroke-width="1"/>
<line x1="227.5" y1="423.5" x2="229.5" y2="423.5" stroke="#777" stroke-width="1"/>
<line x1="227.5" y1="443.5" x2="229.5" y2="443.5" stroke="#777" stroke-width="1"/>
<line x1="227.5" y1="463.5" x2="229.5" y2="463.5" stroke="#777" stroke-width="1"/>
<line x1="227.5" y1="482.5" x2="229.5" y2="482.5" stroke="#777" stroke-width="1"/>
<text x="219.78" y="413.13" font-size="12.3" textLength="6.4" lengthAdjust="spacingAndGlyphs">0</text>
<text x="213.42" y="432.61" font-size="12.3" textLength="12.79" lengthAdjust="spacingAndGlyphs">25</text>
<text x="213.39" y="452.23" font-size="12.3" textLength="12.79" lengthAdjust="spacingAndGlyphs">50</text>
<text x="213.42" y="471.47" font-size="12.3" textLength="12.79" lengthAdjust="spacingAndGlyphs">75</text>
<text x="206.99" y="491.03" font-size="12.3" textLength="19.19" lengthAdjust="spacingAndGlyphs">100</text>
<line x1="235.4" y1="491.5" x2="351.3" y2="491.5" stroke="#555" stroke-width="1"/>
<line x1="235.5" y1="491.5" x2="235.5" y2="489.3" stroke="#555" stroke-width="1"/>
<line x1="264.5" y1="491.5" x2="264.5" y2="489.3" stroke="#555" stroke-width="1"/>
<line x1="293.5" y1="491.5" x2="293.5" y2="489.3" stroke="#555" stroke-width="1"/>
<line x1="322.5" y1="491.5" x2="322.5" y2="489.3" stroke="#555" stroke-width="1"/>
<line x1="351.5" y1="491.5" x2="351.5" y2="489.3" stroke="#555" stroke-width="1"/>
<text x="232.2" y="505" font-size="12.3" textLength="6.4" lengthAdjust="spacingAndGlyphs">8</text>
<text x="261.18" y="505" font-size="12.3" textLength="6.4" lengthAdjust="spacingAndGlyphs">7</text>
<text x="290.42" y="505" font-size="12.3" textLength="6.4" lengthAdjust="spacingAndGlyphs">6</text>
<text x="319.19" y="505" font-size="12.3" textLength="6.4" lengthAdjust="spacingAndGlyphs">5</text>
<text x="347.77" y="505" font-size="12.3" textLength="6.4" lengthAdjust="spacingAndGlyphs">4</text>
<text x="251.74" y="517.6" font-size="16" textLength="94.56" lengthAdjust="spacingAndGlyphs">ACH (-log M)</text>
<text x="279.01" y="426.2" font-size="12.8" textLength="41.35" lengthAdjust="spacingAndGlyphs">(INDO)</text>
<polyline points="235.3,406.9 249.7,441.4 264.3,461 279.1,469.5 293,478 307.8,478.8 322,479.4 336.8,478" fill="none" stroke="#222" stroke-width="0.9"/>
<line x1="249.7" y1="421.4" x2="249.7" y2="461.4" stroke="#666" stroke-width="0.9"/>
<line x1="264.3" y1="446" x2="264.3" y2="476" stroke="#666" stroke-width="0.9"/>
<line x1="279.1" y1="459.5" x2="279.1" y2="479.5" stroke="#666" stroke-width="0.9"/>
<line x1="293" y1="475" x2="293" y2="481" stroke="#666" stroke-width="0.9"/>
<line x1="307.8" y1="476.8" x2="307.8" y2="480.8" stroke="#666" stroke-width="0.9"/>
<line x1="322" y1="477.4" x2="322" y2="481.4" stroke="#666" stroke-width="0.9"/>
<polyline points="235.3,406.9 249.7,415.3 264.3,422.3 279.1,435.4 293,446.2 307.8,449.8 322,452.4 336.8,453" fill="none" stroke="#222" stroke-width="0.9"/>
<line x1="249.7" y1="406.3" x2="249.7" y2="424.3" stroke="#666" stroke-width="0.9"/>
<line x1="264.3" y1="412.8" x2="264.3" y2="431.8" stroke="#666" stroke-width="0.9"/>
<line x1="279.1" y1="429.7" x2="279.1" y2="441.1" stroke="#666" stroke-width="0.9"/>
<line x1="293" y1="437.7" x2="293" y2="454.7" stroke="#666" stroke-width="0.9"/>
<line x1="307.8" y1="440.3" x2="307.8" y2="459.3" stroke="#666" stroke-width="0.9"/>
<line x1="322" y1="443.9" x2="322" y2="460.9" stroke="#666" stroke-width="0.9"/>
<line x1="336.8" y1="446" x2="336.8" y2="460" stroke="#666" stroke-width="0.9"/>
<circle cx="235.3" cy="406.9" r="2.25" fill="#fff" stroke="#1a1a1a" stroke-width="0.9"/>
<circle cx="249.7" cy="441.4" r="2.25" fill="#fff" stroke="#1a1a1a" stroke-width="0.9"/>
<circle cx="264.3" cy="461" r="2.25" fill="#fff" stroke="#1a1a1a" stroke-width="0.9"/>
<circle cx="279.1" cy="469.5" r="2.25" fill="#fff" stroke="#1a1a1a" stroke-width="0.9"/>
<circle cx="293" cy="478" r="2.25" fill="#fff" stroke="#1a1a1a" stroke-width="0.9"/>
<circle cx="307.8" cy="478.8" r="2.25" fill="#fff" stroke="#1a1a1a" stroke-width="0.9"/>
<circle cx="322" cy="479.4" r="2.25" fill="#fff" stroke="#1a1a1a" stroke-width="0.9"/>
<circle cx="336.8" cy="478" r="2.25" fill="#fff" stroke="#1a1a1a" stroke-width="0.9"/>
<circle cx="235.3" cy="406.9" r="2.5" fill="#000"/>
<circle cx="249.7" cy="415.3" r="2.5" fill="#000"/>
<circle cx="264.3" cy="422.3" r="2.5" fill="#000"/>
<circle cx="279.1" cy="435.4" r="2.5" fill="#000"/>
<circle cx="293" cy="446.2" r="2.5" fill="#000"/>
<circle cx="307.8" cy="449.8" r="2.5" fill="#000"/>
<circle cx="322" cy="452.4" r="2.5" fill="#000"/>
<circle cx="336.8" cy="453" r="2.5" fill="#000"/>
<rect x="339.5" y="398.5" width="44" height="25" fill="#fff" stroke="#808080" stroke-width="1.1"/>
<line x1="341.6" y1="406.3" x2="354.3" y2="406.3" stroke="#444" stroke-width="0.9"/>
<circle cx="347.9" cy="406.3" r="2.25" fill="#fff" stroke="#1a1a1a" stroke-width="0.9"/>
<text x="355.04" y="410.5" font-size="11.5">CT</text>
<line x1="341.6" y1="416.2" x2="354.3" y2="416.2" stroke="#333" stroke-width="0.9"/>
<circle cx="347.4" cy="416.2" r="2.5" fill="#000"/>
<text x="355.07" y="420.9" font-size="11.5"><tspan font-style="italic">Cbs</tspan><tspan font-size="6.5" dy="-5" fill="#555">-/-</tspan></text>
<ellipse cx="348.1" cy="430.43" rx="0.83" ry="1.47" transform="rotate(0 348.1 430.43)" fill="#1a1a1a"/><ellipse cx="349.98" cy="431.52" rx="0.83" ry="1.47" transform="rotate(60 349.98 431.52)" fill="#1a1a1a"/><ellipse cx="349.98" cy="433.69" rx="0.83" ry="1.47" transform="rotate(120 349.98 433.69)" fill="#1a1a1a"/><ellipse cx="348.1" cy="434.77" rx="0.83" ry="1.47" transform="rotate(180 348.1 434.77)" fill="#1a1a1a"/><ellipse cx="346.22" cy="433.69" rx="0.83" ry="1.47" transform="rotate(240 346.22 433.69)" fill="#1a1a1a"/><ellipse cx="346.22" cy="431.52" rx="0.83" ry="1.47" transform="rotate(-60 346.22 431.52)" fill="#1a1a1a"/>
<text x="338.25" y="449" font-size="13.2" textLength="33.48" lengthAdjust="spacingAndGlyphs">62.5%</text>
<text x="340.38" y="485.2" font-size="13.2" textLength="33.45" lengthAdjust="spacingAndGlyphs">94.5%</text>
<text x="9.64" y="539.6" font-size="20.2" font-family="Liberation Sans, sans-serif" font-weight="bold" fill="#000">H</text>
<text x="48.51" y="545.8" font-size="16" textLength="97.71" lengthAdjust="spacingAndGlyphs">PGI<tspan font-size="10" dy="3.5">2</tspan><tspan dy="-3.5">-mediated</tspan></text>
<text x="16.63" y="560.5" font-size="16" textLength="157.13" lengthAdjust="spacingAndGlyphs">endothelium-dependent</text>
<text x="64.17" y="575.6" font-size="16" textLength="65.69" lengthAdjust="spacingAndGlyphs">relaxation</text>
<text x="51.82" y="590.6" font-size="12.8" textLength="91.33" lengthAdjust="spacingAndGlyphs">(L-NAME+TEA)</text>
<text x="0" y="0" font-size="15.5" textLength="100.42" lengthAdjust="spacingAndGlyphs" transform="translate(19.3 682.2) rotate(-90)">Relaxation (%)</text>
<line x1="46.5" y1="586" x2="46.5" y2="674.4" stroke="#555" stroke-width="1"/>
<line x1="46.5" y1="593.5" x2="48.5" y2="593.5" stroke="#555" stroke-width="1"/>
<line x1="46.5" y1="614.5" x2="48.5" y2="614.5" stroke="#555" stroke-width="1"/>
<line x1="46.5" y1="634.5" x2="48.5" y2="634.5" stroke="#555" stroke-width="1"/>
<line x1="46.5" y1="654.5" x2="48.5" y2="654.5" stroke="#555" stroke-width="1"/>
<line x1="46.5" y1="673.5" x2="48.5" y2="673.5" stroke="#555" stroke-width="1"/>
<text x="38.68" y="599.23" font-size="12.3" textLength="6.4" lengthAdjust="spacingAndGlyphs">0</text>
<text x="32.32" y="618.91" font-size="12.3" textLength="12.79" lengthAdjust="spacingAndGlyphs">25</text>
<text x="32.29" y="639.03" font-size="12.3" textLength="12.79" lengthAdjust="spacingAndGlyphs">50</text>
<text x="32.32" y="658.77" font-size="12.3" textLength="12.79" lengthAdjust="spacingAndGlyphs">75</text>
<text x="25.89" y="676.03" font-size="12.3" textLength="19.19" lengthAdjust="spacingAndGlyphs">100</text>
<line x1="54" y1="679.5" x2="172" y2="679.5" stroke="#666" stroke-width="1"/>
<line x1="54.5" y1="679.5" x2="54.5" y2="677.3" stroke="#666" stroke-width="1"/>
<line x1="83.5" y1="679.5" x2="83.5" y2="677.3" stroke="#666" stroke-width="1"/>
<line x1="113.5" y1="679.5" x2="113.5" y2="677.3" stroke="#666" stroke-width="1"/>
<line x1="142.5" y1="679.5" x2="142.5" y2="677.3" stroke="#666" stroke-width="1"/>
<line x1="171.5" y1="679.5" x2="171.5" y2="677.3" stroke="#666" stroke-width="1"/>
<text x="50.8" y="694.4" font-size="12.3" textLength="6.4" lengthAdjust="spacingAndGlyphs">8</text>
<text x="80.18" y="694.4" font-size="12.3" textLength="6.4" lengthAdjust="spacingAndGlyphs">7</text>
<text x="109.92" y="694.4" font-size="12.3" textLength="6.4" lengthAdjust="spacingAndGlyphs">6</text>
<text x="139.59" y="694.4" font-size="12.3" textLength="6.4" lengthAdjust="spacingAndGlyphs">5</text>
<text x="168.67" y="694.4" font-size="12.3" textLength="6.4" lengthAdjust="spacingAndGlyphs">4</text>
<text x="46.53" y="710.3" font-size="16" textLength="95.97" lengthAdjust="spacingAndGlyphs">ACH (-log M)</text>
<polyline points="54.7,595.4 69.5,597.7 83.8,600.3 98.6,601.7 113.2,604.7 128,610 142.2,613.3 157,615.4" fill="none" stroke="#222" stroke-width="0.9"/>
<polyline points="54.7,595.2 69.5,596.6 83.8,596.6 98.6,597.4 113.2,599.3 128,602.5 142.2,607.3 157,614.6" fill="none" stroke="#222" stroke-width="0.9"/>
<circle cx="54.7" cy="595.4" r="2.5" fill="#000"/>
<circle cx="69.5" cy="597.7" r="2.5" fill="#000"/>
<circle cx="83.8" cy="600.3" r="2.5" fill="#000"/>
<circle cx="98.6" cy="601.7" r="2.5" fill="#000"/>
<circle cx="113.2" cy="604.7" r="2.5" fill="#000"/>
<circle cx="128" cy="610" r="2.5" fill="#000"/>
<circle cx="142.2" cy="613.3" r="2.5" fill="#000"/>
<circle cx="157" cy="615.4" r="2.5" fill="#000"/>
<circle cx="54.7" cy="595.2" r="2.25" fill="#fff" stroke="#1a1a1a" stroke-width="0.9"/>
<circle cx="69.5" cy="596.6" r="2.25" fill="#fff" stroke="#1a1a1a" stroke-width="0.9"/>
<circle cx="83.8" cy="596.6" r="2.25" fill="#fff" stroke="#1a1a1a" stroke-width="0.9"/>
<circle cx="98.6" cy="597.4" r="2.25" fill="#fff" stroke="#1a1a1a" stroke-width="0.9"/>
<circle cx="113.2" cy="599.3" r="2.25" fill="#fff" stroke="#1a1a1a" stroke-width="0.9"/>
<circle cx="128" cy="602.5" r="2.25" fill="#fff" stroke="#1a1a1a" stroke-width="0.9"/>
<circle cx="142.2" cy="607.3" r="2.25" fill="#fff" stroke="#1a1a1a" stroke-width="0.9"/>
<circle cx="157" cy="614.6" r="2.25" fill="#fff" stroke="#1a1a1a" stroke-width="0.9"/>
<rect x="52.5" y="649.5" width="44" height="25" fill="#fff" stroke="#808080" stroke-width="1.1"/>
<line x1="54.3" y1="657.6" x2="67" y2="657.6" stroke="#444" stroke-width="0.9"/>
<circle cx="60.6" cy="657.6" r="2.25" fill="#fff" stroke="#1a1a1a" stroke-width="0.9"/>
<text x="67.74" y="661.8" font-size="11.5">CT</text>
<line x1="54.3" y1="667.5" x2="67" y2="667.5" stroke="#333" stroke-width="0.9"/>
<circle cx="60.1" cy="667.5" r="2.5" fill="#000"/>
<text x="67.77" y="672.2" font-size="11.5"><tspan font-style="italic">Cbs</tspan><tspan font-size="6.5" dy="-5" fill="#555">-/-</tspan></text>
<text x="148.42" y="605.6" font-size="13.2" textLength="33.31" lengthAdjust="spacingAndGlyphs">25.9%</text>
<text x="136.32" y="635.6" font-size="13.2" textLength="33.31" lengthAdjust="spacingAndGlyphs">26.9%</text>
<text x="202.54" y="538.6" font-size="20.2" font-family="Liberation Sans, sans-serif" font-weight="bold" fill="#000">I</text>
<text x="225.91" y="544.4" font-size="16" textLength="88.89" lengthAdjust="spacingAndGlyphs">NO-mediated</text>
<text x="191.64" y="559.5" font-size="16" textLength="155.93" lengthAdjust="spacingAndGlyphs">endothelium-dependent</text>
<text x="237.87" y="574.2" font-size="16" textLength="65.28" lengthAdjust="spacingAndGlyphs">relaxation</text>
<text x="233.81" y="589.5" font-size="12.8" textLength="73.95" lengthAdjust="spacingAndGlyphs">(INDO+TEA)</text>
<line x1="206.5" y1="585" x2="206.5" y2="674.4" stroke="#666" stroke-width="1"/>
<line x1="206.5" y1="593.5" x2="208.5" y2="593.5" stroke="#666" stroke-width="1"/>
<line x1="206.5" y1="613.5" x2="208.5" y2="613.5" stroke="#666" stroke-width="1"/>
<line x1="206.5" y1="633.5" x2="208.5" y2="633.5" stroke="#666" stroke-width="1"/>
<line x1="206.5" y1="653.5" x2="208.5" y2="653.5" stroke="#666" stroke-width="1"/>
<line x1="206.5" y1="674.5" x2="208.5" y2="674.5" stroke="#666" stroke-width="1"/>
<text x="198.48" y="598.03" font-size="12.3" textLength="6.4" lengthAdjust="spacingAndGlyphs">0</text>
<text x="192.12" y="617.61" font-size="12.3" textLength="12.79" lengthAdjust="spacingAndGlyphs">25</text>
<text x="192.09" y="637.33" font-size="12.3" textLength="12.79" lengthAdjust="spacingAndGlyphs">50</text>
<text x="192.12" y="656.97" font-size="12.3" textLength="12.79" lengthAdjust="spacingAndGlyphs">75</text>
<text x="185.69" y="676.73" font-size="12.3" textLength="19.19" lengthAdjust="spacingAndGlyphs">100</text>
<line x1="214.8" y1="680.5" x2="331.7" y2="680.5" stroke="#555" stroke-width="1"/>
<line x1="214.5" y1="680.5" x2="214.5" y2="678.3" stroke="#555" stroke-width="1"/>
<line x1="244.5" y1="680.5" x2="244.5" y2="678.3" stroke="#555" stroke-width="1"/>
<line x1="273.5" y1="680.5" x2="273.5" y2="678.3" stroke="#555" stroke-width="1"/>
<line x1="302.5" y1="680.5" x2="302.5" y2="678.3" stroke="#555" stroke-width="1"/>
<line x1="331.5" y1="680.5" x2="331.5" y2="678.3" stroke="#555" stroke-width="1"/>
<text x="211.6" y="694.4" font-size="12.3" textLength="6.4" lengthAdjust="spacingAndGlyphs">8</text>
<text x="240.58" y="694.4" font-size="12.3" textLength="6.4" lengthAdjust="spacingAndGlyphs">7</text>
<text x="270.22" y="694.4" font-size="12.3" textLength="6.4" lengthAdjust="spacingAndGlyphs">6</text>
<text x="299.19" y="694.4" font-size="12.3" textLength="6.4" lengthAdjust="spacingAndGlyphs">5</text>
<text x="328.27" y="694.4" font-size="12.3" textLength="6.4" lengthAdjust="spacingAndGlyphs">4</text>
<text x="212.33" y="710.3" font-size="16" textLength="95.67" lengthAdjust="spacingAndGlyphs">ACH (-log M)</text>
<polyline points="214.8,595.5 229.6,595.8 244,596.2 259,599.3 273.2,602.3 288,610.3 302.2,616.3 317,619.8" fill="none" stroke="#222" stroke-width="0.9"/>
<line x1="288" y1="606.3" x2="288" y2="614.3" stroke="#666" stroke-width="0.9"/>
<line x1="302.2" y1="611.3" x2="302.2" y2="621.3" stroke="#666" stroke-width="0.9"/>
<line x1="317" y1="614.8" x2="317" y2="624.8" stroke="#666" stroke-width="0.9"/>
<polyline points="214.8,595.8 229.6,596.7 244,597.2 259,599.5 273.2,607.4 288,619 302.2,637.8 317,644.5" fill="none" stroke="#222" stroke-width="0.9"/>
<line x1="273.2" y1="602" x2="273.2" y2="612.8" stroke="#666" stroke-width="0.9"/>
<line x1="288" y1="607" x2="288" y2="631" stroke="#666" stroke-width="0.9"/>
<line x1="302.2" y1="628.4" x2="302.2" y2="647.2" stroke="#666" stroke-width="0.9"/>
<line x1="317" y1="636.5" x2="317" y2="652.5" stroke="#666" stroke-width="0.9"/>
<circle cx="214.8" cy="595.5" r="2.5" fill="#000"/>
<circle cx="229.6" cy="595.8" r="2.5" fill="#000"/>
<circle cx="244" cy="596.2" r="2.5" fill="#000"/>
<circle cx="259" cy="599.3" r="2.5" fill="#000"/>
<circle cx="273.2" cy="602.3" r="2.5" fill="#000"/>
<circle cx="288" cy="610.3" r="2.5" fill="#000"/>
<circle cx="302.2" cy="616.3" r="2.5" fill="#000"/>
<circle cx="317" cy="619.8" r="2.5" fill="#000"/>
<circle cx="214.8" cy="595.8" r="2.25" fill="#fff" stroke="#1a1a1a" stroke-width="0.9"/>
<circle cx="229.6" cy="596.7" r="2.25" fill="#fff" stroke="#1a1a1a" stroke-width="0.9"/>
<circle cx="244" cy="597.2" r="2.25" fill="#fff" stroke="#1a1a1a" stroke-width="0.9"/>
<circle cx="259" cy="599.5" r="2.25" fill="#fff" stroke="#1a1a1a" stroke-width="0.9"/>
<circle cx="273.2" cy="607.4" r="2.25" fill="#fff" stroke="#1a1a1a" stroke-width="0.9"/>
<circle cx="288" cy="619" r="2.25" fill="#fff" stroke="#1a1a1a" stroke-width="0.9"/>
<circle cx="302.2" cy="637.8" r="2.25" fill="#fff" stroke="#1a1a1a" stroke-width="0.9"/>
<circle cx="317" cy="644.5" r="2.25" fill="#fff" stroke="#1a1a1a" stroke-width="0.9"/>
<rect x="216.5" y="649.5" width="44" height="25" fill="#fff" stroke="#808080" stroke-width="1.1"/>
<line x1="219.2" y1="657.6" x2="231.9" y2="657.6" stroke="#444" stroke-width="0.9"/>
<circle cx="225.5" cy="657.6" r="2.25" fill="#fff" stroke="#1a1a1a" stroke-width="0.9"/>
<text x="232.64" y="661.8" font-size="11.5">CT</text>
<line x1="219.2" y1="667.5" x2="231.9" y2="667.5" stroke="#333" stroke-width="0.9"/>
<circle cx="225" cy="667.5" r="2.5" fill="#000"/>
<text x="232.67" y="672.2" font-size="11.5"><tspan font-style="italic">Cbs</tspan><tspan font-size="6.5" dy="-5" fill="#555">-/-</tspan></text>
<ellipse cx="317" cy="597.03" rx="0.83" ry="1.47" transform="rotate(0 317 597.03)" fill="#1a1a1a"/><ellipse cx="318.88" cy="598.12" rx="0.83" ry="1.47" transform="rotate(60 318.88 598.12)" fill="#1a1a1a"/><ellipse cx="318.88" cy="600.29" rx="0.83" ry="1.47" transform="rotate(120 318.88 600.29)" fill="#1a1a1a"/><ellipse cx="317" cy="601.37" rx="0.83" ry="1.47" transform="rotate(180 317 601.37)" fill="#1a1a1a"/><ellipse cx="315.12" cy="600.29" rx="0.83" ry="1.47" transform="rotate(240 315.12 600.29)" fill="#1a1a1a"/><ellipse cx="315.12" cy="598.12" rx="0.83" ry="1.47" transform="rotate(-60 315.12 598.12)" fill="#1a1a1a"/>
<text x="303.01" y="613.6" font-size="13.2" textLength="31.89" lengthAdjust="spacingAndGlyphs">33.0%</text>
<text x="300.37" y="667.3" font-size="13.2" textLength="32.45" lengthAdjust="spacingAndGlyphs">63.1%</text>
<text x="354.7" y="540.2" font-size="20.2" font-family="Liberation Sans, sans-serif" font-weight="bold" fill="#000">J</text>
<text x="382.31" y="544.9" font-size="16" textLength="107.58" lengthAdjust="spacingAndGlyphs">EDHF-mediated</text>
<text x="357.44" y="559.5" font-size="16" textLength="156.53" lengthAdjust="spacingAndGlyphs">endothelium-dependent</text>
<text x="403.57" y="574.7" font-size="16" textLength="65.08" lengthAdjust="spacingAndGlyphs">relaxation</text>
<text x="386.01" y="589.9" font-size="12.8" textLength="99.95" lengthAdjust="spacingAndGlyphs">(L-NAME+INDO)</text>
<line x1="364.5" y1="585.7" x2="364.5" y2="674.4" stroke="#666" stroke-width="1"/>
<line x1="364.5" y1="593.5" x2="366.5" y2="593.5" stroke="#666" stroke-width="1"/>
<line x1="364.5" y1="613.5" x2="366.5" y2="613.5" stroke="#666" stroke-width="1"/>
<line x1="364.5" y1="633.5" x2="366.5" y2="633.5" stroke="#666" stroke-width="1"/>
<line x1="364.5" y1="653.5" x2="366.5" y2="653.5" stroke="#666" stroke-width="1"/>
<line x1="364.5" y1="673.5" x2="366.5" y2="673.5" stroke="#666" stroke-width="1"/>
<text x="356.78" y="598.93" font-size="12.3" textLength="6.4" lengthAdjust="spacingAndGlyphs">0</text>
<text x="350.42" y="619.21" font-size="12.3" textLength="12.79" lengthAdjust="spacingAndGlyphs">25</text>
<text x="350.39" y="639.03" font-size="12.3" textLength="12.79" lengthAdjust="spacingAndGlyphs">50</text>
<text x="350.42" y="658.57" font-size="12.3" textLength="12.79" lengthAdjust="spacingAndGlyphs">75</text>
<text x="343.99" y="678.03" font-size="12.3" textLength="19.19" lengthAdjust="spacingAndGlyphs">100</text>
<line x1="372.1" y1="680.5" x2="489" y2="680.5" stroke="#555" stroke-width="1"/>
<line x1="372.5" y1="680.5" x2="372.5" y2="678.3" stroke="#555" stroke-width="1"/>
<line x1="401.5" y1="680.5" x2="401.5" y2="678.3" stroke="#555" stroke-width="1"/>
<line x1="430.5" y1="680.5" x2="430.5" y2="678.3" stroke="#555" stroke-width="1"/>
<line x1="459.5" y1="680.5" x2="459.5" y2="678.3" stroke="#555" stroke-width="1"/>
<line x1="488.5" y1="680.5" x2="488.5" y2="678.3" stroke="#555" stroke-width="1"/>
<text x="368.9" y="694.4" font-size="12.3" textLength="6.4" lengthAdjust="spacingAndGlyphs">8</text>
<text x="398.28" y="694.4" font-size="12.3" textLength="6.4" lengthAdjust="spacingAndGlyphs">7</text>
<text x="427.22" y="694.4" font-size="12.3" textLength="6.4" lengthAdjust="spacingAndGlyphs">6</text>
<text x="456.29" y="694.4" font-size="12.3" textLength="6.4" lengthAdjust="spacingAndGlyphs">5</text>
<text x="485.47" y="694.4" font-size="12.3" textLength="6.4" lengthAdjust="spacingAndGlyphs">4</text>
<text x="366.53" y="710.3" font-size="16" textLength="95.97" lengthAdjust="spacingAndGlyphs">ACH (-log M)</text>
<polyline points="372.7,600.7 387.5,612.2 401.8,621.7 416.6,639.2 431.2,650.7 446,653.4 460.2,660.7 475,662.9" fill="none" stroke="#222" stroke-width="0.9"/>
<line x1="387.5" y1="603.2" x2="387.5" y2="621.2" stroke="#666" stroke-width="0.9"/>
<line x1="401.8" y1="613.7" x2="401.8" y2="629.7" stroke="#666" stroke-width="0.9"/>
<line x1="416.6" y1="635.2" x2="416.6" y2="643.2" stroke="#666" stroke-width="0.9"/>
<line x1="431.2" y1="642.7" x2="431.2" y2="658.7" stroke="#666" stroke-width="0.9"/>
<line x1="446" y1="648" x2="446" y2="658.8" stroke="#666" stroke-width="0.9"/>
<polyline points="372.7,594.7 387.5,599.3 401.8,604.2 416.6,607.7 431.2,614.9 446,617.6 460.2,620.8 475,626.2" fill="none" stroke="#222" stroke-width="0.9"/>
<line x1="416.6" y1="603.4" x2="416.6" y2="612" stroke="#666" stroke-width="0.9"/>
<line x1="475" y1="621.5" x2="475" y2="630.9" stroke="#666" stroke-width="0.9"/>
<circle cx="372.7" cy="600.7" r="2.25" fill="#fff" stroke="#1a1a1a" stroke-width="0.9"/>
<circle cx="387.5" cy="612.2" r="2.25" fill="#fff" stroke="#1a1a1a" stroke-width="0.9"/>
<circle cx="401.8" cy="621.7" r="2.25" fill="#fff" stroke="#1a1a1a" stroke-width="0.9"/>
<circle cx="416.6" cy="639.2" r="2.25" fill="#fff" stroke="#1a1a1a" stroke-width="0.9"/>
<circle cx="431.2" cy="650.7" r="2.25" fill="#fff" stroke="#1a1a1a" stroke-width="0.9"/>
<circle cx="446" cy="653.4" r="2.25" fill="#fff" stroke="#1a1a1a" stroke-width="0.9"/>
<circle cx="460.2" cy="660.7" r="2.25" fill="#fff" stroke="#1a1a1a" stroke-width="0.9"/>
<circle cx="475" cy="662.9" r="2.25" fill="#fff" stroke="#1a1a1a" stroke-width="0.9"/>
<circle cx="372.7" cy="594.7" r="2.5" fill="#000"/>
<circle cx="387.5" cy="599.3" r="2.5" fill="#000"/>
<circle cx="401.8" cy="604.2" r="2.5" fill="#000"/>
<circle cx="416.6" cy="607.7" r="2.5" fill="#000"/>
<circle cx="431.2" cy="614.9" r="2.5" fill="#000"/>
<circle cx="446" cy="617.6" r="2.5" fill="#000"/>
<circle cx="460.2" cy="620.8" r="2.5" fill="#000"/>
<circle cx="475" cy="626.2" r="2.5" fill="#000"/>
<rect x="370.5" y="649.5" width="44" height="25" fill="#fff" stroke="#808080" stroke-width="1.1"/>
<line x1="372.6" y1="657.8" x2="385.3" y2="657.8" stroke="#444" stroke-width="0.9"/>
<circle cx="378.9" cy="657.8" r="2.25" fill="#fff" stroke="#1a1a1a" stroke-width="0.9"/>
<text x="386.04" y="662" font-size="11.5">CT</text>
<line x1="372.6" y1="667.7" x2="385.3" y2="667.7" stroke="#333" stroke-width="0.9"/>
<circle cx="378.4" cy="667.7" r="2.5" fill="#000"/>
<text x="386.07" y="672.4" font-size="11.5"><tspan font-style="italic">Cbs</tspan><tspan font-size="6.5" dy="-5" fill="#555">-/-</tspan></text>
<ellipse cx="476.5" cy="598.53" rx="0.83" ry="1.47" transform="rotate(0 476.5 598.53)" fill="#1a1a1a"/><ellipse cx="478.38" cy="599.62" rx="0.83" ry="1.47" transform="rotate(60 478.38 599.62)" fill="#1a1a1a"/><ellipse cx="478.38" cy="601.79" rx="0.83" ry="1.47" transform="rotate(120 478.38 601.79)" fill="#1a1a1a"/><ellipse cx="476.5" cy="602.87" rx="0.83" ry="1.47" transform="rotate(180 476.5 602.87)" fill="#1a1a1a"/><ellipse cx="474.62" cy="601.79" rx="0.83" ry="1.47" transform="rotate(240 474.62 601.79)" fill="#1a1a1a"/><ellipse cx="474.62" cy="599.62" rx="0.83" ry="1.47" transform="rotate(-60 474.62 599.62)" fill="#1a1a1a"/>
<text x="465.94" y="618.2" font-size="13.2" textLength="33.79" lengthAdjust="spacingAndGlyphs">40.4%</text>
<text x="455.7" y="677.2" font-size="13.2" textLength="34.65" lengthAdjust="spacingAndGlyphs">86.3%</text>
</svg></body></html>
